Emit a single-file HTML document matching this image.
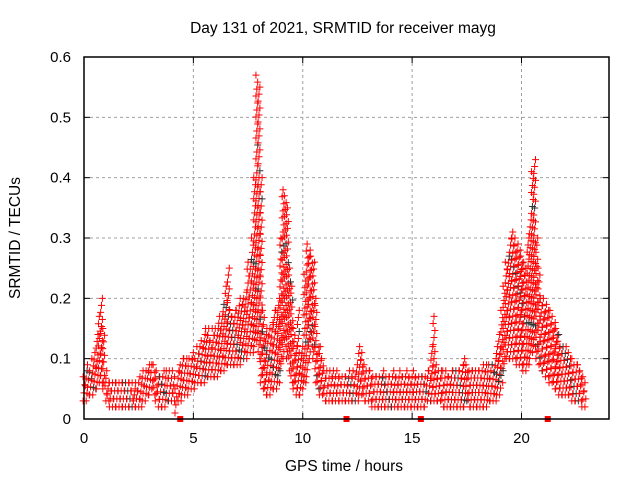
<!DOCTYPE html>
<html><head><meta charset="utf-8"><style>
body{margin:0;background:#fff;}
svg{display:block;font-family:"Liberation Sans",sans-serif;}
</style></head><body>
<svg id="chart" width="640" height="480" viewBox="0 0 640 480">
<text x="343" y="33" font-size="15.5" text-anchor="middle">Day 131 of 2021, SRMTID for receiver mayg</text>
<text transform="translate(20,238) rotate(-90)" font-size="15.5" text-anchor="middle">SRMTID / TECUs</text>
<text x="344" y="471" font-size="15.5" text-anchor="middle">GPS time / hours</text>
<g id="grid"></g><g id="pts"></g><g id="axes"></g>
</svg>
<script>
const xTicks=[0,5,10,15,20];
const yTicks=[0,0.1,0.2,0.3,0.4,0.5,0.6];
const yTickLabels=["0","0.1","0.2","0.3","0.4","0.5","0.6"];
const startHour=0, stepHour=0.1;
const hiVals=[.07,.08,.09,.08,.10,.11,.14,.17,.20,.15,
.08,.06,.06,.06,.06,.06,.06,.06,.06,.06,
.06,.06,.06,.05,.06,.06,.07,.08,.08,.08,
.09,.09,.09,.08,.07,.07,.07,.08,.08,.08,
.08,.07,.05,.08,.09,.10,.10,.10,.10,.10,
.11,.10,.12,.12,.13,.14,.15,.15,.13,.15,
.15,.15,.17,.17,.19,.22,.25,.18,.17,.18,
.18,.20,.19,.20,.21,.26,.26,.30,.40,.57,
.55,.40,.18,.14,.15,.15,.16,.18,.18,.20,
.30,.38,.37,.35,.25,.22,.15,.12,.18,.10,
.12,.24,.29,.28,.27,.26,.20,.12,.12,.10,
.08,.08,.08,.07,.08,.07,.08,.07,.07,.07,
.07,.08,.07,.08,.07,.09,.12,.11,.09,.08,
.08,.08,.07,.07,.07,.07,.07,.08,.07,.07,
.07,.07,.08,.07,.08,.07,.07,.07,.08,.07,
.07,.08,.07,.07,.07,.07,.07,.08,.08,.12,
.17,.09,.08,.08,.08,.08,.07,.07,.08,.08,
.08,.08,.08,.09,.10,.09,.08,.08,.08,.08,
.08,.08,.08,.09,.09,.09,.08,.09,.10,.12,
.14,.18,.22,.26,.27,.30,.31,.30,.29,.28,
.27,.26,.25,.30,.33,.41,.43,.30,.25,.20,
.20,.19,.18,.18,.17,.16,.15,.14,.12,.12,
.12,.11,.10,.10,.09,.09,.09,.08,.07,.06];
const loVals=[.03,.03,.04,.04,.04,.05,.05,.06,.06,.05,
.03,.03,.02,.02,.02,.02,.02,.02,.02,.02,
.02,.02,.02,.02,.02,.02,.02,.03,.03,.04,
.04,.05,.04,.03,.02,.02,.02,.02,.03,.03,
.03,.03,.01,.03,.03,.04,.04,.04,.05,.05,
.05,.06,.06,.06,.06,.06,.07,.07,.07,.07,
.07,.07,.08,.08,.08,.09,.09,.09,.09,.09,
.09,.09,.10,.10,.10,.11,.11,.11,.12,.13,
.10,.06,.05,.04,.04,.04,.05,.05,.05,.06,
.08,.10,.12,.10,.08,.06,.05,.04,.04,.04,
.05,.06,.07,.10,.12,.10,.06,.05,.04,.04,
.03,.03,.03,.03,.03,.03,.03,.03,.03,.03,
.03,.03,.03,.03,.03,.03,.04,.04,.03,.03,
.03,.03,.02,.02,.02,.02,.02,.02,.02,.02,
.02,.02,.02,.02,.02,.02,.02,.02,.02,.02,
.02,.02,.02,.02,.02,.02,.02,.03,.03,.03,
.03,.03,.03,.03,.02,.02,.02,.02,.02,.02,
.02,.02,.02,.02,.02,.03,.02,.02,.02,.02,
.02,.02,.02,.02,.02,.03,.03,.03,.03,.04,
.04,.06,.08,.10,.10,.10,.10,.10,.09,.09,
.09,.08,.08,.09,.10,.11,.12,.10,.09,.08,
.08,.07,.07,.06,.06,.05,.05,.04,.04,.04,
.04,.04,.04,.03,.03,.03,.03,.03,.02,.02];
const markerHours=[4.4,12.0,15.4,21.2];

const L=84,R=609,T=57,B=419,XMAX=24,YMAX=0.6;
const xs=h=>L+(R-L)*h/XMAX;
const ys=v=>B-(B-T)*v/YMAX;
const NS="http://www.w3.org/2000/svg";
function mk(tag,attrs,parent){const e=document.createElementNS(NS,tag);for(const k in attrs)e.setAttribute(k,attrs[k]);parent.appendChild(e);return e;}
const grid=document.getElementById('grid'),axes=document.getElementById('axes'),pts=document.getElementById('pts');
xTicks.forEach(t=>{
  const x=xs(t);
  if(t>0){const g=mk('line',{x1:x,x2:x,y1:T,y2:B,stroke:'#a0a0a0','stroke-dasharray':'3,3'},grid);
  
  }
  const tk=mk('line',{x1:x,x2:x,y1:B,y2:B-6,stroke:'#000'},axes);
  
  
  mk('line',{x1:x,x2:x,y1:T,y2:T+6,stroke:'#000'},axes);
  const lb=mk('text',{x:x,y:B+24,'font-size':15,'text-anchor':'middle'},axes);lb.textContent=t;
  
  
});
yTicks.forEach((t,i)=>{
  const y=ys(t);
  if(t>0&&t<YMAX){const g=mk('line',{x1:L,x2:R,y1:y,y2:y,stroke:'#a0a0a0','stroke-dasharray':'3,3'},grid);
  
  }
  mk('line',{x1:L,x2:L+6,y1:y,y2:y,stroke:'#000'},axes);
  mk('line',{x1:R,x2:R-6,y1:y,y2:y,stroke:'#000'},axes);
  const lb=mk('text',{x:L-13,y:y+5,'font-size':15,'text-anchor':'end'},axes);lb.textContent=yTickLabels[i];
  
  
});
const frame=mk('rect',{x:L,y:T,width:R-L,height:B-T,fill:'none',stroke:'#000','stroke-width':1.5},axes);


function plus(x,y,c){
  const p=mk('path',{d:`M${x-3.5},${y}h7M${x},${y-3.5}v7`,stroke:c,'stroke-width':1,fill:'none'},pts);
  
  
}
hiVals.forEach((hi,i)=>{
  const lo=loVals[i];
  const h=startHour+i*stepHour;
  const y1=ys(hi),y2=ys(lo);
  const n=Math.max(2,Math.round((y2-y1)/7));
  for(let k=0;k<=n;k++){
    const v=lo+(hi-lo)*k/n;
    const off=(((k+i)%3)-1)*0.04;
    plus(xs(h+off),ys(v),(k+i)%17===5?'#333':'#ff0000');
  }
});
markerHours.forEach(h=>{
  const r=mk('rect',{x:xs(h)-3,y:B-3,width:6,height:6,fill:'#ff0000'},pts);
  
  
});
</script>
</body></html>
